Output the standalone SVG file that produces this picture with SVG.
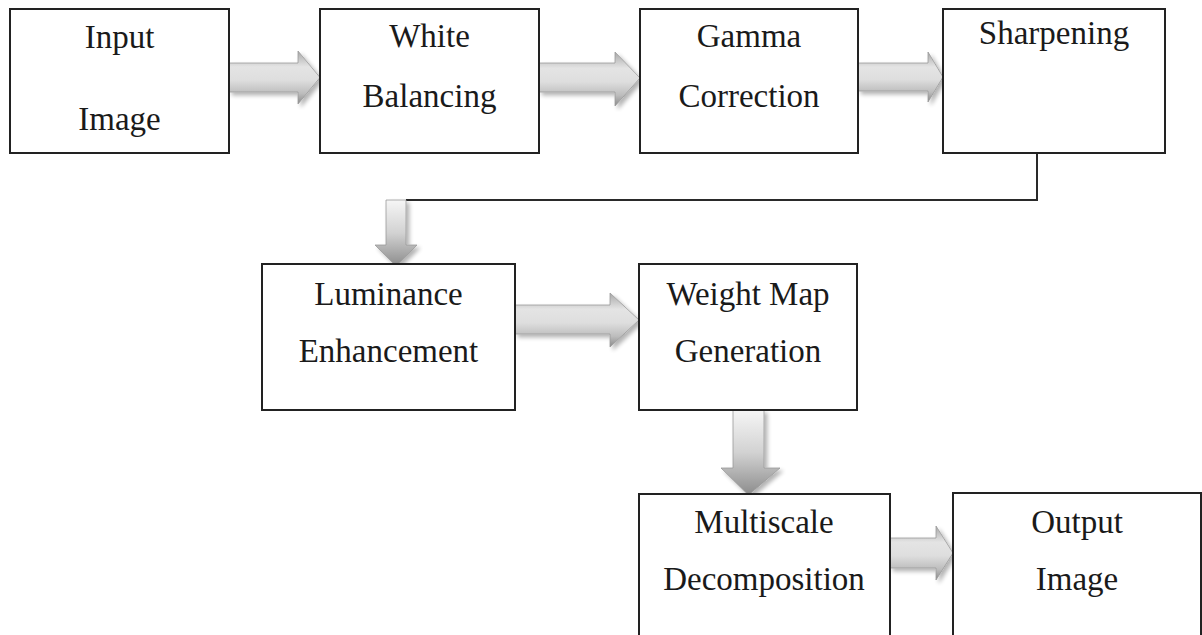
<svg xmlns="http://www.w3.org/2000/svg" width="1202" height="635" viewBox="0 0 1202 635">
<defs>
<style>
.box{fill:#ffffff;stroke:#222222;stroke-width:2}
.lbl{font-family:"Liberation Serif","Times New Roman",serif;font-size:33px;fill:#1a1a1a;text-anchor:middle}
.conn{fill:none;stroke:#2a2a2a;stroke-width:2}
.ha{fill:url(#gh);stroke:#9a9a9a;stroke-width:0.8;filter:url(#sh)}
.va{fill:url(#gv);stroke:#9a9a9a;stroke-width:0.8;filter:url(#sh)}
</style>
<linearGradient id="gh" x1="0" y1="0" x2="0" y2="1">
<stop offset="0" stop-color="#a8a8a8"/>
<stop offset="0.3" stop-color="#e4e4e4"/>
<stop offset="0.55" stop-color="#dedede"/>
<stop offset="0.8" stop-color="#bdbdbd"/>
<stop offset="1" stop-color="#8a8a8a"/>
</linearGradient>
<linearGradient id="gv" x1="0" y1="0" x2="0" y2="1">
<stop offset="0" stop-color="#f6f6f6"/>
<stop offset="0.5" stop-color="#d2d2d2"/>
<stop offset="1" stop-color="#8c8c8c"/>
</linearGradient>
<filter id="sh" x="-20%" y="-20%" width="150%" height="150%">
<feGaussianBlur in="SourceAlpha" stdDeviation="2"/>
<feOffset dx="3" dy="3" result="b"/>
<feComponentTransfer><feFuncA type="linear" slope="0.3"/></feComponentTransfer>
<feMerge><feMergeNode/><feMergeNode in="SourceGraphic"/></feMerge>
</filter>
</defs>

<g id="connectors">
<polyline class="conn" points="1037,153 1037,200 406,200"/>
<polygon class="ha" points="229,63 298,63 298,51 320,77.5 298,104 298,92 229,92"/>
<polygon class="ha" points="539,63 615,63 615,52 640,78 615,106 615,92 539,92"/>
<polygon class="ha" points="858,63 928,63 928,52 943,77 928,102 928,91 858,91"/>
<polygon class="va" points="386,200 406,200 406,245 417,245 396,266 375,245 386,245"/>
<polygon class="ha" points="515,305 610,305 610,293 639,320 610,347 610,334 515,334"/>
<polygon class="va" points="733,410 764,410 764,468 780,468 748.5,495 721,468 733,468"/>
<polygon class="ha" points="890,538 936,538 936,526 953,553 936,580 936,568 890,568"/>
</g>

<g id="input-image">
<rect class="box" x="10" y="9" width="219" height="144"/>
<text class="lbl" x="119.5" y="48">Input</text>
<text class="lbl" x="119.5" y="130">Image</text>
</g>
<g id="white-balancing">
<rect class="box" x="320" y="9" width="219" height="144"/>
<text class="lbl" x="429.5" y="47">White</text>
<text class="lbl" x="429.5" y="107">Balancing</text>
</g>
<g id="gamma-correction">
<rect class="box" x="640" y="9" width="218" height="144"/>
<text class="lbl" x="749" y="47">Gamma</text>
<text class="lbl" x="749" y="107">Correction</text>
</g>
<g id="sharpening">
<rect class="box" x="943" y="9" width="222" height="144"/>
<text class="lbl" x="1054" y="44">Sharpening</text>
</g>
<g id="luminance-enhancement">
<rect class="box" x="262" y="264" width="253" height="146"/>
<text class="lbl" x="388.5" y="305">Luminance</text>
<text class="lbl" x="388.5" y="362">Enhancement</text>
</g>
<g id="weight-map-generation">
<rect class="box" x="639" y="264" width="218" height="146"/>
<text class="lbl" x="748" y="305">Weight Map</text>
<text class="lbl" x="748" y="362">Generation</text>
</g>
<g id="multiscale-decomposition">
<rect class="box" x="639" y="494" width="251" height="170"/>
<text class="lbl" x="764" y="533">Multiscale</text>
<text class="lbl" x="764" y="590">Decomposition</text>
</g>
<g id="output-image">
<rect class="box" x="953" y="493" width="248" height="170"/>
<text class="lbl" x="1077" y="533">Output</text>
<text class="lbl" x="1077" y="590">Image</text>
</g>
</svg>
